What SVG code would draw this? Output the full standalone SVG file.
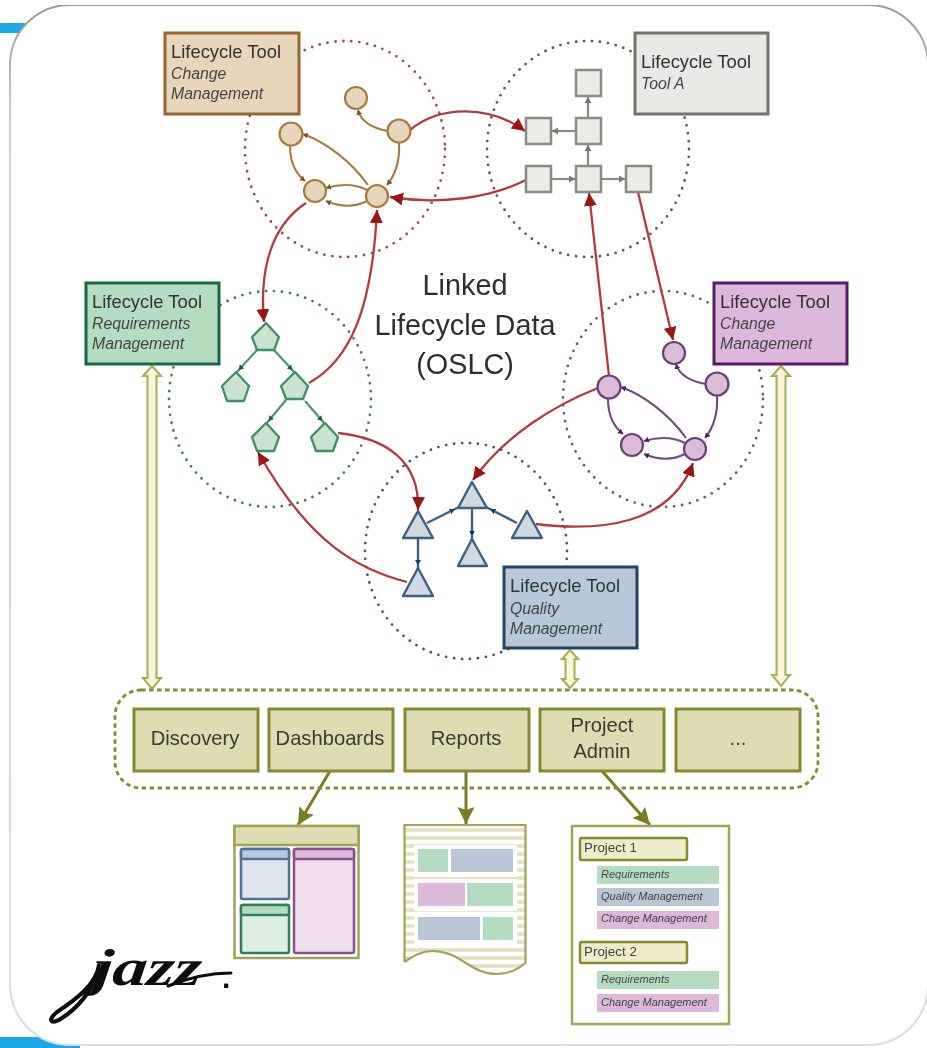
<svg xmlns="http://www.w3.org/2000/svg" width="927" height="1048" viewBox="0 0 927 1048">
<style>
text{font-family:"Liberation Sans",Arial,sans-serif;fill:#333}
.t{font-size:18.4px}.s{font-size:15.8px;font-style:italic;fill:#444}
.b{font-size:20.2px;text-anchor:middle;fill:#3a3a35}
.c{font-size:28.8px;text-anchor:middle;fill:#2e2e2e}
.p{font-size:13.4px;fill:#444}.i{font-size:11px;font-style:italic;fill:#444}
.dot{fill:none;stroke-width:2.8;stroke-linecap:round;stroke-dasharray:0 8}
.red{fill:none;stroke:#b03c3e;stroke-width:2.3;marker-end:url(#mr)}
.ol{fill:none;stroke:#7b7d22;stroke-width:3;marker-end:url(#mo)}
.ao{fill:none;stroke:#a67c3f;stroke-width:2.1;marker-end:url(#ao)}
.au{fill:none;stroke:#744a7e;stroke-width:2.1;marker-end:url(#au)}
.ag{fill:none;stroke:#8b8b86;stroke-width:2.2;marker-end:url(#ag)}
.an{fill:none;stroke:#4b946c;stroke-width:2.2;marker-end:url(#an)}
.ab{fill:none;stroke:#3e6180;stroke-width:2.4;marker-end:url(#ab)}
.dbl{fill:#f7f6d9;stroke:#a9ab58;stroke-width:2}
.co{fill:#e8d6bc;stroke:#a67c3f;stroke-width:2.2}
.cu{fill:#dcbcd9;stroke:#6a3f78;stroke-width:2.2}
.sq{fill:#ebebe8;stroke:#8b8b86;stroke-width:2.5}
.pe{fill:#c9e3d0;stroke:#3f8f64;stroke-width:2.3;stroke-linejoin:round}
.tr{fill:#cfd9e3;stroke:#3e6180;stroke-width:2.4;stroke-linejoin:round}
.bx{fill:#dedcb0;stroke:#87892f;stroke-width:3}
.gr{fill:#b5dcc0}.bl{fill:#b9c6d8}.pu{fill:#dcb8da}
</style>
<defs>
<filter id="soft" x="0" y="0" width="100%" height="100%"><feGaussianBlur stdDeviation="0.6"/></filter>
<linearGradient id="edge" x1="0" y1="0" x2="0" y2="1"><stop offset="0" stop-color="#999"/><stop offset="0.12" stop-color="#d0d0d0"/><stop offset="1" stop-color="#dcdce4"/></linearGradient>
<clipPath id="rc"><path d="M404.500,825L525.500,825L525.500,963C515,972 505,974 497,974C470,974 460,951 433,951C420,951 412,957 404.500,962Z"/></clipPath>
<marker id="mr" markerWidth="16" markerHeight="14" refX="13" refY="6.5" orient="auto" markerUnits="userSpaceOnUse"><path d="M0,0L13,6.5L0,13Z" fill="#9a1216"/></marker>
<marker id="mo" markerWidth="20" markerHeight="18" refX="17" refY="8.5" orient="auto" markerUnits="userSpaceOnUse"><path d="M0,0L17,8.5L0,17L3,8.5Z" fill="#7b7d22"/></marker>
<marker id="ao" markerWidth="7" markerHeight="7" refX="5" refY="3" orient="auto" markerUnits="userSpaceOnUse"><path d="M0,0L5,3L0,6Z" fill="#7a5520"/></marker>
<marker id="au" markerWidth="7" markerHeight="7" refX="5" refY="3" orient="auto" markerUnits="userSpaceOnUse"><path d="M0,0L5,3L0,6Z" fill="#4a2260"/></marker>
<marker id="ag" markerWidth="8" markerHeight="8" refX="6" refY="3.5" orient="auto" markerUnits="userSpaceOnUse"><path d="M0,0L6,3.5L0,7Z" fill="#777"/></marker>
<marker id="an" markerWidth="12" markerHeight="7" refX="9" refY="3" orient="auto" markerUnits="userSpaceOnUse"><path d="M0,0L5,3L0,6Z" fill="#14603c"/></marker>
<marker id="ab" markerWidth="12" markerHeight="7" refX="10" refY="3" orient="auto" markerUnits="userSpaceOnUse"><path d="M0,0L5,3L0,6Z" fill="#1f3f5c"/></marker>
</defs>
<rect width="927" height="1048" fill="#fff"/>
<g filter="url(#soft)">
<g id="frame">
<rect x="0" y="23" width="60" height="10" fill="#1aa7e8"/>
<rect x="0" y="1037" width="80" height="11" fill="#1aa7e8"/>
<rect x="10" y="5" width="918" height="1040" rx="60" ry="60" fill="#fff" stroke="url(#edge)" stroke-width="2"/>
</g>
<g id="regions">
<ellipse cx="345" cy="149" rx="100" ry="108" class="dot" stroke="#a04a55"/>
<ellipse cx="588" cy="149" rx="101" ry="108" class="dot" stroke="#5a5a5a"/>
<ellipse cx="270" cy="399" rx="101" ry="108" class="dot" stroke="#3f7f5a"/>
<ellipse cx="663" cy="399" rx="100" ry="108" class="dot" stroke="#6a5a78"/>
<ellipse cx="466" cy="551" rx="101" ry="108" class="dot" stroke="#3e5a78"/>
</g>
<g id="connectors">
<path class="ao" d="M388,131C371,128 361,121 358,110"/>
<path class="ao" d="M368,185C350,160 325,142 303,134"/>
<path class="ao" d="M290,146C290,160 295,173 305,181"/>
<path class="ao" d="M399,143C400,160 395,175 387,185"/>
<path class="ao" d="M367,190C355,184 340,184 326,188"/>
<path class="ao" d="M367,201C355,207 340,207 326,201"/>
<path class="au" d="M706,384C689,381 679,374 676,364"/>
<path class="au" d="M686,438C668,413 643,395 621,387"/>
<path class="au" d="M608,399C608,413 613,426 623,434"/>
<path class="au" d="M717,396C718,413 713,428 705,438"/>
<path class="au" d="M685,443C673,437 658,437 644,441"/>
<path class="au" d="M685,454C673,460 658,460 644,454"/>
<path class="ag" d="M588,118L588,97"/>
<path class="ag" d="M588,166L588,145"/>
<path class="ag" d="M575,131L552,131"/>
<path class="ag" d="M551,179L575,179"/>
<path class="ag" d="M601,179L625,179"/>
<path class="an" d="M257,350L236,373"/>
<path class="an" d="M274,350L295,373"/>
<path class="an" d="M286,400L266,424"/>
<path class="an" d="M305,401L325,424"/>
<path class="ab" d="M427,523L459,507"/>
<path class="ab" d="M517,523L486,507"/>
<path class="ab" d="M472,508L472,541"/>
<path class="ab" d="M418,538L418,570"/>
<path class="red" d="M410,130C440,105 490,105 525,131"/>
<path class="red" d="M526,180C490,198 440,205 390,197"/>
<path class="red" d="M306,203C280,220 258,255 264,322"/>
<path class="red" d="M309,383C350,360 372,310 377,210"/>
<path class="red" d="M338,433C385,438 420,460 418,510"/>
<path class="red" d="M407,582C360,570 310,545 258,452"/>
<path class="red" d="M598,388C555,405 505,435 473,480"/>
<path class="red" d="M536,524C600,532 670,525 693,463"/>
<path class="red" d="M609,376L589,193"/>
<path class="red" d="M638,192L673,340"/>
<polygon class="dbl" points="152,366 161,376 156.500,376 156.500,678 161,678 152,689 143,678 147.500,678 147.500,376 143,376"/>
<polygon class="dbl" points="781,366 790,376 785.500,376 785.500,675 790,675 781,686 772,675 776.500,675 776.500,376 772,376"/>
<polygon class="dbl" points="570,650 578,659 574.500,659 574.500,679 578,679 570,688 562,679 565.500,679 565.500,659 562,659"/>
<path class="ol" d="M330,771L298,825"/>
<path class="ol" d="M466,771L466,824"/>
<path class="ol" d="M602,771L650,825"/>
</g>
<g id="nodes-change-a">
<circle class="co" cx="356" cy="98" r="11"/><circle class="co" cx="399" cy="131" r="11.500"/><circle class="co" cx="291" cy="134" r="11.500"/><circle class="co" cx="315" cy="191" r="11"/><circle class="co" cx="377" cy="196" r="11"/>
</g>
<g id="tool-change-a"><rect x="165" y="33" width="134" height="81" fill="#e8d6bc" stroke="#99662f" stroke-width="3"/>
<text class="t" x="171" y="58">Lifecycle Tool</text><text class="s" x="171" y="79">Change</text><text class="s" x="171" y="99">Management</text></g>
<g id="nodes-tool-a">
<rect class="sq" x="576" y="70" width="25" height="26"/><rect class="sq" x="576" y="118" width="25" height="26"/><rect class="sq" x="526" y="118" width="25" height="26"/><rect class="sq" x="526" y="166" width="25" height="26"/><rect class="sq" x="576" y="166" width="25" height="26"/><rect class="sq" x="626" y="166" width="25" height="26"/>
</g>
<g id="tool-a"><rect x="635" y="33" width="133" height="81" fill="#e8e8e5" stroke="#75756f" stroke-width="3"/>
<text class="t" x="641" y="68">Lifecycle Tool</text><text class="s" x="641" y="89">Tool A</text></g>
<g id="nodes-requirements">
<polygon class="pe" points="266,323 279,337 274,350 257,350 252,337"/>
<polygon class="pe" points="236,372 249,386 244,401 227,401 222,386"/>
<polygon class="pe" points="295,372 308,386 303,399 286,399 281,386"/>
<polygon class="pe" points="266,423 279,437 274,451 257,451 252,437"/>
<polygon class="pe" points="325,423 338,437 333,451 316,451 311,437"/>
</g>
<g id="tool-requirements"><rect x="86" y="283" width="133" height="81" fill="#b5dcc0" stroke="#17693f" stroke-width="3"/>
<text class="t" x="92" y="308">Lifecycle Tool</text><text class="s" x="92" y="329">Requirements</text><text class="s" x="92" y="349">Management</text></g>
<g id="nodes-change-b">
<circle class="cu" cx="674" cy="353" r="11"/><circle class="cu" cx="717" cy="384" r="11.500"/><circle class="cu" cx="609" cy="387" r="11.500"/><circle class="cu" cx="632" cy="445" r="11"/><circle class="cu" cx="695" cy="449" r="11"/>
</g>
<g id="tool-change-b"><rect x="714" y="283" width="133" height="81" fill="#dcb8da" stroke="#5a1f68" stroke-width="3"/>
<text class="t" x="720" y="308">Lifecycle Tool</text><text class="s" x="720" y="329">Change</text><text class="s" x="720" y="349">Management</text></g>
<g id="nodes-quality">
<polygon class="tr" points="418,511 433,538 403,538"/>
<polygon class="tr" points="472,482 487,508 458,508"/>
<polygon class="tr" points="527,511 542,538 512,538"/>
<polygon class="tr" points="472,539 487,566 458,566"/>
<polygon class="tr" points="418,568 433,596 403,596"/>
</g>
<g id="tool-quality"><rect x="504" y="567" width="133" height="81" fill="#b9c8d8" stroke="#1f4468" stroke-width="3"/>
<text class="t" x="510" y="592">Lifecycle Tool</text><text class="s" x="510" y="614">Quality</text><text class="s" x="510" y="634">Management</text></g>
<g id="title"><text class="c" x="465" y="295">Linked</text><text class="c" x="465" y="335">Lifecycle Data</text><text class="c" x="465" y="374">(OSLC)</text></g>
<g id="services">
<rect x="115" y="690" width="703" height="98" rx="26" fill="none" stroke="#87892f" stroke-width="2.800" stroke-dasharray="4.500 3.500"/>
<g id="discovery"><rect class="bx" x="134" y="709" width="124" height="62"/><text class="b" x="195" y="745">Discovery</text></g>
<g id="dashboards"><rect class="bx" x="269" y="709" width="124" height="62"/><text class="b" x="330" y="745">Dashboards</text></g>
<g id="reports"><rect class="bx" x="405" y="709" width="124" height="62"/><text class="b" x="466" y="745">Reports</text></g>
<g id="project-admin"><rect class="bx" x="540" y="709" width="124" height="62"/><text class="b" x="602" y="732">Project</text><text class="b" x="602" y="758">Admin</text></g>
<g id="more"><rect class="bx" x="676" y="709" width="124" height="62"/><text class="b" x="738" y="745">...</text></g>
</g>
<g id="dashboard-view">
<rect x="234.500" y="826" width="124" height="132" fill="#fff" stroke="#a1a355" stroke-width="2.500"/>
<rect x="234.500" y="826" width="124" height="19" fill="#dedcb0" stroke="#a1a355" stroke-width="2.500"/>
<rect x="241" y="849" width="48" height="50" rx="2" fill="#dfe5ee" stroke="#4f7396" stroke-width="2.500"/><rect x="241" y="849" width="48" height="10" rx="2" fill="#b9cade" stroke="#4f7396" stroke-width="2.500"/>
<rect x="241" y="905" width="48" height="48" rx="2" fill="#dff0e3" stroke="#2f8056" stroke-width="2.500"/><rect x="241" y="905" width="48" height="10" rx="2" fill="#b5dcc0" stroke="#2f8056" stroke-width="2.500"/>
<rect x="294" y="849" width="60" height="104" rx="2" fill="#efdfee" stroke="#8c4f8c" stroke-width="2.500"/><rect x="294" y="849" width="60" height="10" rx="2" fill="#dcb8da" stroke="#8c4f8c" stroke-width="2.500"/>
</g>
<g id="report-view">
<path clip-path="url(#rc)" d="M404,830H526M404,838H526M404,846H526M404,854H526M404,862H526M404,870H526M404,878H526M404,886H526M404,894H526M404,902H526M404,910H526M404,918H526M404,926H526M404,934H526M404,942H526M404,950H526M404,958H526M404,966H526" stroke="#e3e2bd" stroke-width="3.500" fill="none"/>
<rect x="414" y="845" width="103" height="32" fill="#fff"/><rect x="414" y="879" width="103" height="32" fill="#fff"/><rect x="414" y="913" width="103" height="31" fill="#fff"/>
<path d="M404.500,962L404.500,825L525.500,825L525.500,963C515,972 505,974 497,974C470,974 460,951 433,951C420,951 412,957 404.500,962" fill="none" stroke="#a1a355" stroke-width="2.200"/>
<rect class="gr" x="418" y="849" width="30" height="23"/><rect class="bl" x="451" y="849" width="62" height="23"/>
<rect class="pu" x="418" y="883" width="47" height="23"/><rect class="gr" x="467" y="883" width="46" height="23"/>
<rect class="bl" x="418" y="917" width="62" height="23"/><rect class="gr" x="483" y="917" width="30" height="23"/>
</g>
<g id="project-view">
<rect x="572" y="826" width="157" height="198" fill="#fff" stroke="#a1a355" stroke-width="2.500"/>
<rect x="580" y="838" width="107" height="22" rx="2" fill="#eeecca" stroke="#87892f" stroke-width="2.500"/><text class="p" x="584" y="852">Project 1</text>
<rect class="gr" x="597" y="866" width="122" height="18"/><text class="i" x="601" y="878">Requirements</text>
<rect class="bl" x="597" y="888" width="122" height="18"/><text class="i" x="601" y="900">Quality Management</text>
<rect class="pu" x="597" y="911" width="122" height="18"/><text class="i" x="601" y="922">Change Management</text>
<rect x="580" y="942" width="107" height="21" rx="2" fill="#eeecca" stroke="#87892f" stroke-width="2.500"/><text class="p" x="584" y="956">Project 2</text>
<rect class="gr" x="597" y="971" width="122" height="18"/><text class="i" x="601" y="983">Requirements</text>
<rect class="pu" x="597" y="994" width="122" height="18"/><text class="i" x="601" y="1006">Change Management</text>
</g>
<g id="logo">
<text transform="translate(92,985) skewX(-6)" style="font-family:'Liberation Serif',serif;font-style:italic;font-weight:bold;font-size:52px;fill:#111" textLength="108" lengthAdjust="spacingAndGlyphs">jazz</text>
<path d="M99,965C96,985 75,1000 57,1012C46,1021 52,1025 62,1018C78,1008 92,990 97,975" fill="none" stroke="#111" stroke-width="4" stroke-linecap="round"/>
<path d="M168,986C188,978 210,973 231,973" fill="none" stroke="#111" stroke-width="3" stroke-linecap="round"/>
<text x="222" y="988" style="font-family:'Liberation Sans',sans-serif;font-weight:bold;font-size:30px;fill:#111">.</text>
</g>
</g>
</svg>
